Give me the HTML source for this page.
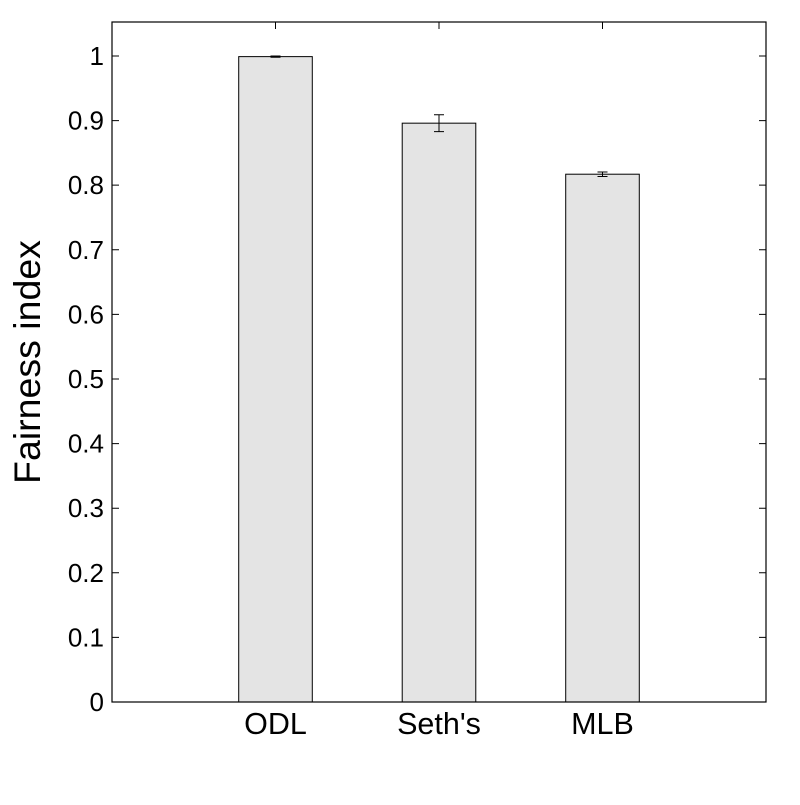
<!DOCTYPE html>
<html><head><meta charset="utf-8"><style>
body{margin:0;background:#fff}
svg text{font-family:"Liberation Sans",Arial,sans-serif;fill:#000}
</style></head><body>
<svg id="chart" width="800" height="800" xmlns="http://www.w3.org/2000/svg">
<rect x="0" y="0" width="800" height="800" fill="#fff"/>
<g id="marks"></g>
<rect x="112" y="22" width="654" height="680" fill="none" stroke="#000" stroke-width="1.2"/>
<text transform="translate(40,362) rotate(-90)" text-anchor="middle" font-size="37.5">Fairness index</text>
</svg>
<script>
const categories=["ODL","Seth's","MLB"];
const values=[0.999,0.896,0.817];
const errors=[0.001,0.013,0.0035];
const yTicks=[0,0.1,0.2,0.3,0.4,0.5,0.6,0.7,0.8,0.9,1];
const yTickLabels=["0","0.1","0.2","0.3","0.4","0.5","0.6","0.7","0.8","0.9","1"];
const L=112,R=766,T=22,B=702,yMax=1.0526,xMax=4;
const NS="http://www.w3.org/2000/svg";
const g=document.getElementById('marks');
function y(v){return B-(v/yMax)*(B-T);}
function x(i){return L+(i+1)/xMax*(R-L);}
function mk(tag,a){const e=document.createElementNS(NS,tag);for(const k in a)e.setAttribute(k,a[k]);g.appendChild(e);return e;}
const bw=0.45/xMax*(R-L);
values.forEach((v,i)=>{
  const r=mk('rect',{x:x(i)-bw/2,y:y(v),width:bw,height:B-y(v),fill:'#e4e4e4',stroke:'#000','stroke-width':1});
  
  
  const e=mk('path',{d:`M${x(i)},${y(v+errors[i])}V${y(v-errors[i])}M${x(i)-5},${y(v+errors[i])}h10M${x(i)-5},${y(v-errors[i])}h10`,stroke:'#000','stroke-width':1,fill:'none'});
  
  
  const t=mk('path',{d:`M${x(i)},${T}v7`,stroke:'#000','stroke-width':1});
  
  
  const l=mk('text',{x:x(i),y:734,'text-anchor':'middle','font-size':30.5});
  l.textContent=categories[i];
  
  
});
yTicks.forEach((v,i)=>{
  const t=mk('path',{d:`M${L},${y(v)}h7M${R},${y(v)}h-7`,stroke:'#000','stroke-width':1});
  
  
  const l=mk('text',{x:104,y:y(v)+9,'text-anchor':'end','font-size':26});
  l.textContent=yTickLabels[i];
  
  
});
</script>
</body></html>
